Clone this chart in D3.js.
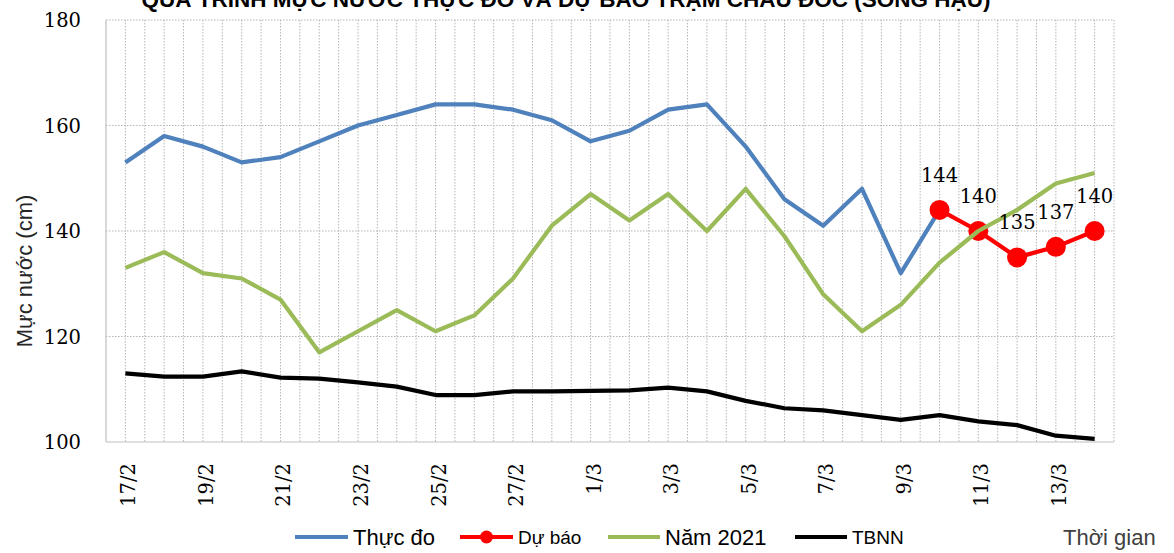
<!DOCTYPE html>
<html>
<head>
<meta charset="utf-8">
<script src="https://cdn.jsdelivr.net/npm/d3@7"></script>
<style>
  body { margin: 0; background: #fff; }
  svg { display: block; }
</style>
</head>
<body>
<div id="chart"></div>
<script>

var days = ["17/2","18/2","19/2","20/2","21/2","22/2","23/2","24/2","25/2","26/2","27/2","28/2",
            "1/3","2/3","3/3","4/3","5/3","6/3","7/3","8/3","9/3","10/3","11/3","12/3","13/3","14/3"];

// measured (Thực đo): 17/2 -> 10/3
var thucDo = [153, 158, 156, 153, 154, 157, 160, 162, 164, 164, 163, 161,
              157, 159, 163, 164, 156, 146, 141, 148, 132, 144];

// forecast (Dự báo): 10/3 -> 14/3
var duBaoDays = ["10/3","11/3","12/3","13/3","14/3"];
var duBao = [144, 140, 135, 137, 140];

var nam2021 = [133, 136, 132, 131, 127, 117, 121, 125, 121, 124, 131, 141,
               147, 142, 147, 140, 148, 139, 128, 121, 126, 134, 140, 144, 149, 151];

var tbnn = [113, 112.4, 112.4, 113.4, 112.2, 112, 111.3, 110.5, 108.9, 108.9, 109.6, 109.6,
            109.7, 109.8, 110.3, 109.6, 107.8, 106.4, 106, 105.1, 104.2, 105.1, 103.9, 103.2, 101.2, 100.6];

var yTicks = [100, 120, 140, 160, 180];

var W = 1174, H = 553;
var margin = {top: 20, right: 60, bottom: 111, left: 106},
    width = W - margin.left - margin.right,
    height = H - margin.top - margin.bottom;

var svg = d3.select("#chart").append("svg")
    .attr("width", W)
    .attr("height", H);

var x = d3.scalePoint()
    .domain(days)
    .range([margin.left, margin.left + width])
    .padding(0.5);

var y = d3.scaleLinear()
    .domain([100, 180])
    .range([margin.top + height, margin.top]);

var step = x.step();

// title (cut off at top in the original)
svg.append("text")
    .attr("x", 566)
    .attr("y", 7)
    .attr("text-anchor", "middle")
    .style("font-family", "Liberation Sans, Arial, sans-serif")
    .style("font-weight", "bold")
    .style("font-size", "22.5px")
    .text("QUÁ TRÌNH MỰC NƯỚC THỰC ĐO VÀ DỰ BÁO TRẠM CHÂU ĐỐC (SÔNG HẬU)");

// gridlines
var grid = svg.append("g").attr("class", "grid");
var vx = [];
days.forEach(function(d) {
    vx.push(x(d) - step / 2);
    vx.push(x(d));
});
vx.push(margin.left + width);
grid.selectAll(".vg")
    .data(vx.slice(1))
    .enter().append("line")
    .attr("x1", function(d) { return d; })
    .attr("x2", function(d) { return d; })
    .attr("y1", margin.top)
    .attr("y2", margin.top + height)
    .attr("stroke", "#b5b5b5")
    .attr("stroke-width", 1)
    .attr("stroke-dasharray", "1.5,1.5");

grid.selectAll(".hg")
    .data(yTicks.slice(1))
    .enter().append("line")
    .attr("x1", margin.left)
    .attr("x2", margin.left + width)
    .attr("y1", function(d) { return y(d); })
    .attr("y2", function(d) { return y(d); })
    .attr("stroke", "#b5b5b5")
    .attr("stroke-width", 1)
    .attr("stroke-dasharray", "1.5,1.5");

// axes lines
svg.append("line")
    .attr("x1", margin.left).attr("x2", margin.left)
    .attr("y1", margin.top).attr("y2", margin.top + height)
    .attr("stroke", "#bfbfbf").attr("stroke-width", 1.2);
svg.append("line")
    .attr("x1", margin.left).attr("x2", margin.left + width)
    .attr("y1", margin.top + height).attr("y2", margin.top + height)
    .attr("stroke", "#bfbfbf").attr("stroke-width", 1.2);

// y tick labels
svg.selectAll(".ytick")
    .data(yTicks)
    .enter().append("text")
    .attr("x", 81)
    .attr("y", function(d) { return y(d); })
    .attr("dy", "0.36em")
    .attr("text-anchor", "end")
    .style("font-family", "DejaVu Serif, serif")
    .style("font-size", "19.5px")
    .text(function(d) { return d; });

// x tick labels (every other day)
svg.selectAll(".xtick")
    .data(days.filter(function(d, i) { return i % 2 === 0; }))
    .enter().append("text")
    .attr("transform", function(d) { return "translate(" + (x(d) + 3) + "," + 463 + ") rotate(-90)"; })
    .attr("dy", "0.36em")
    .attr("text-anchor", "end")
    .style("font-family", "DejaVu Serif, serif")
    .style("font-size", "19.5px")
    .text(function(d) { return d; });

// y axis title
svg.append("text")
    .attr("transform", "translate(32,271) rotate(-90)")
    .attr("text-anchor", "middle")
    .style("font-family", "Liberation Sans, Arial, sans-serif")
    .style("font-size", "22px")
    .style("fill", "#262626")
    .text("Mực nước (cm)");

var line = d3.line()
    .x(function(d) { return x(d.day); })
    .y(function(d) { return y(d.v); });

function pairs(dayList, vals) {
    return vals.map(function(v, i) { return {day: dayList[i], v: v}; });
}

var blueData = pairs(days, thucDo);
var redData = pairs(duBaoDays, duBao);
var greenData = pairs(days, nam2021);
var blackData = pairs(days, tbnn);

svg.append("path")
    .datum(blueData)
    .attr("d", line)
    .attr("fill", "none")
    .attr("stroke", "#4f81bd")
    .attr("stroke-width", 4.2)
    .attr("stroke-linejoin", "round");

svg.append("path")
    .datum(redData)
    .attr("d", line)
    .attr("fill", "none")
    .attr("stroke", "#ff0000")
    .attr("stroke-width", 4.2)
    .attr("stroke-linejoin", "round");

svg.selectAll(".redDot")
    .data(redData)
    .enter().append("circle")
    .attr("cx", function(d) { return x(d.day); })
    .attr("cy", function(d) { return y(d.v); })
    .attr("r", 10)
    .attr("fill", "#ff0000");

svg.append("path")
    .datum(greenData)
    .attr("d", line)
    .attr("fill", "none")
    .attr("stroke", "#9bbb59")
    .attr("stroke-width", 4.2)
    .attr("stroke-linejoin", "round");

svg.append("path")
    .datum(blackData)
    .attr("d", line)
    .attr("fill", "none")
    .attr("stroke", "#000")
    .attr("stroke-width", 4.2)
    .attr("stroke-linejoin", "round");

// data labels on forecast
svg.selectAll(".lbl")
    .data(redData)
    .enter().append("text")
    .attr("x", function(d) { return x(d.day); })
    .attr("y", function(d) { return y(d.v) - 28; })
    .attr("text-anchor", "middle")
    .style("font-family", "DejaVu Serif, serif")
    .style("font-size", "19.5px")
    .text(function(d) { return d.v; });

// legend
var legendY = 537;
var legend = [
    {name: "Thực đo", color: "#4f81bd", x0: 295, x1: 348, dot: false, size: 22},
    {name: "Dự báo", color: "#ff0000", x0: 460, x1: 513, dot: true, size: 19},
    {name: "Năm 2021", color: "#9bbb59", x0: 608, x1: 660, dot: false, size: 22},
    {name: "TBNN", color: "#000", x0: 795, x1: 847, dot: false, size: 19}
];
var lg = svg.selectAll(".leg")
    .data(legend)
    .enter().append("g");
lg.append("line")
    .attr("x1", function(d) { return d.x0; })
    .attr("x2", function(d) { return d.x1; })
    .attr("y1", legendY).attr("y2", legendY)
    .attr("stroke", function(d) { return d.color; })
    .attr("stroke-width", 4.2);
lg.filter(function(d) { return d.dot; })
    .append("circle")
    .attr("cx", function(d) { return (d.x0 + d.x1) / 2; })
    .attr("cy", legendY)
    .attr("r", 6.5)
    .attr("fill", function(d) { return d.color; });
lg.append("text")
    .attr("x", function(d) { return d.x1 + 5; })
    .attr("y", legendY)
    .attr("dy", "0.35em")
    .style("font-family", "Liberation Sans, Arial, sans-serif")
    .style("font-size", function(d) { return d.size + "px"; })
    .text(function(d) { return d.name; });

svg.append("text")
    .attr("x", 1063)
    .attr("y", 537)
    .attr("dy", "0.35em")
    .style("font-family", "Liberation Sans, Arial, sans-serif")
    .style("font-size", "22px")
    .style("fill", "#404040")
    .text("Thời gian");

</script>
</body>
</html>
